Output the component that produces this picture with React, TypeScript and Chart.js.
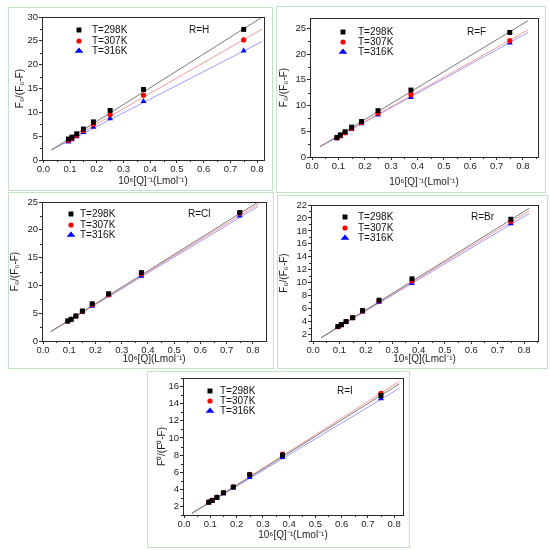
import React, { useEffect, useRef } from "react";
import { Chart, registerables } from "chart.js";
Chart.register(...registerables);

const FONT = "'Liberation Sans', Arial, sans-serif";

// shared x values: 10^6 [Q]^-1
const xQ = [0.094, 0.107, 0.125, 0.15, 0.1875, 0.25, 0.375, 0.75];
const seriesLabels = ["T=298K", "T=307K", "T=316K"];
const fitX = [0.03, 0.82];
const xTicks = [0, 0.1, 0.2, 0.3, 0.4, 0.5, 0.6, 0.7, 0.8];

// R=H
const yH298 = [4.4, 4.8, 5.5, 6.5, 8.0, 10.4, 14.8, 27.4];
const yH307 = [4.1, 4.6, 5.2, 6.2, 7.5, 9.5, 13.6, 25.2];
const yH316 = [3.8, 4.3, 4.9, 5.8, 6.9, 8.7, 12.3, 22.9];
const fitH298 = [2.1, 30.0];
const fitH307 = [2.1, 27.5];
const fitH316 = [2.1, 24.9];
const yTicksH = [0, 5, 10, 15, 20, 25, 30];

// R=F
const yF298 = [3.8, 4.3, 4.9, 5.8, 6.9, 9.0, 13.0, 24.2];
const yF307 = [3.7, 4.1, 4.7, 5.6, 6.7, 8.5, 12.1, 22.6];
const yF316 = [3.6, 4.0, 4.6, 5.4, 6.5, 8.2, 11.6, 22.2];
const fitF298 = [2.0, 26.5];
const fitF307 = [2.0, 24.7];
const fitF316 = [2.0, 24.2];
const yTicksF = [0, 5, 10, 15, 20, 25];

// R=Cl
const yCl298 = [3.6, 3.9, 4.5, 5.4, 6.7, 8.5, 12.3, 23.1];
const yCl307 = [3.6, 3.9, 4.5, 5.3, 6.5, 8.3, 12.1, 23.0];
const yCl316 = [3.5, 3.8, 4.4, 5.2, 6.3, 8.2, 11.7, 22.5];
const fitCl298 = [1.7, 25.0];
const fitCl307 = [1.7, 24.6];
const fitCl316 = [1.7, 24.2];
const yTicksCl = [0, 5, 10, 15, 20, 25];

// R=Br
const yBr298 = [3.25, 3.55, 4.0, 4.6, 5.7, 7.3, 10.6, 19.8];
const yBr307 = [3.2, 3.5, 4.0, 4.6, 5.6, 7.2, 10.3, 19.5];
const yBr316 = [3.1, 3.4, 3.9, 4.5, 5.5, 7.0, 9.9, 19.15];
const fitBr298 = [1.5, 21.5];
const fitBr307 = [1.5, 21.1];
const fitBr316 = [1.5, 20.7];
const yTicksBr = [2, 4, 6, 8, 10, 12, 14, 16, 18, 20, 22];

// R=I
const yI298 = [2.5, 2.7, 3.05, 3.6, 4.25, 5.7, 8.0, 14.95];
const yI307 = [2.5, 2.7, 3.1, 3.6, 4.3, 5.75, 8.1, 15.2];
const yI316 = [2.45, 2.65, 3.0, 3.5, 4.2, 5.4, 7.75, 14.6];
const fitI298 = [1.2, 16.3];
const fitI307 = [1.2, 16.6];
const fitI316 = [1.2, 15.8];
const yTicksI = [2, 4, 6, 8, 10, 12, 14, 16];

const markerColors = ["#000000", "#ff0000", "#0000ff"];
const markerStyles = ["rect", "circle", "triangle"];
const markerRadii = [3.5, 2.6, 3.4];
const lineColors = ["#7a7a7a", "#f39a9a", "#9c9cff"];

type Rect = { x: number; y: number; r: number; b: number };
type PlotR = { l: number; t: number; r: number; b: number };
type Panel = {
  box: Rect;
  plot: PlotR;
  xRange: [number, number];
  yRange: [number, number];
  yTicks: number[];
  ys: number[][];
  fits: number[][];
  yTitle: string;
  xTitle: string;
  yTitleCX: number;
  xTitleCY: number;
  tag: string;
  leg: { mx: number; tx: number; rows: number[]; tagDx: number };
};

const panels: Panel[] = [
  {
    box: { x: 8, y: 7, r: 273, b: 191 },
    plot: { l: 42, t: 17, r: 264, b: 160 },
    xRange: [-0.005, 0.826],
    yRange: [0, 30],
    yTicks: yTicksH,
    ys: [yH298, yH307, yH316],
    fits: [fitH298, fitH307, fitH316],
    yTitle: "F\u2080/(F\u2080-F)",
    xTitle: "10\u2076[Q]\u207B\u00B9(Lmol\u207B\u00B9)",
    yTitleCX: 20,
    xTitleCY: 181,
    tag: "R=H",
    leg: { mx: 37, tx: 50, rows: [13, 24, 34], tagDx: 75 },
  },
  {
    box: { x: 276, y: 6, r: 546, b: 193 },
    plot: { l: 310, t: 18, r: 538, b: 157 },
    xRange: [-0.008, 0.857],
    yRange: [0, 27],
    yTicks: yTicksF,
    ys: [yF298, yF307, yF316],
    fits: [fitF298, fitF307, fitF316],
    yTitle: "F\u2080/(F\u2080-F)",
    xTitle: "10\u2076[Q]\u207B\u00B9(Lmol\u207B\u00B9)",
    yTitleCX: 284,
    xTitleCY: 182,
    tag: "R=F",
    leg: { mx: 33, tx: 48, rows: [14, 24, 34], tagDx: 71 },
  },
  {
    box: { x: 8, y: 192, r: 274, b: 369 },
    plot: { l: 42, t: 202, r: 266, b: 341 },
    xRange: [-0.004, 0.85],
    yRange: [0, 25],
    yTicks: yTicksCl,
    ys: [yCl298, yCl307, yCl316],
    fits: [fitCl298, fitCl307, fitCl316],
    yTitle: "F\u2080/(F\u2080-F)",
    xTitle: "10\u2076[Q](Lmol\u207B\u00B9)",
    yTitleCX: 15,
    xTitleCY: 359,
    tag: "R=Cl",
    leg: { mx: 29, tx: 38, rows: [12, 23, 33], tagDx: 78 },
  },
  {
    box: { x: 277, y: 195, r: 548, b: 369 },
    plot: { l: 311, t: 205, r: 538, b: 341 },
    xRange: [-0.008, 0.853],
    yRange: [1, 22],
    yTicks: yTicksBr,
    ys: [yBr298, yBr307, yBr316],
    fits: [fitBr298, fitBr307, fitBr316],
    yTitle: "F\u2080/(F\u2080-F)",
    xTitle: "10\u2076[Q](Lmcl\u207B\u00B9)",
    yTitleCX: 284,
    xTitleCY: 359,
    tag: "R=Br",
    leg: { mx: 34, tx: 47, rows: [12, 23, 33], tagDx: 67 },
  },
  {
    box: { x: 147, y: 371, r: 410, b: 548 },
    plot: { l: 183, t: 378, r: 403, b: 515 },
    xRange: [-0.004, 0.834],
    yRange: [1, 17],
    yTicks: yTicksI,
    ys: [yI298, yI307, yI316],
    fits: [fitI298, fitI307, fitI316],
    yTitle: "F\u2070/(F\u2070-F)",
    xTitle: "10\u2076[Q]\u207B\u00B9(Lmol\u207B\u00B9)",
    yTitleCX: 162,
    xTitleCY: 535,
    tag: "R=I",
    leg: { mx: 27, tx: 37, rows: [13, 23, 33], tagDx: 66 },
  },
];

function drawMarker(ctx: CanvasRenderingContext2D, style: string, x: number, y: number, r: number, color: string) {
  ctx.save();
  ctx.fillStyle = color;
  ctx.beginPath();
  if (style === "rect") {
    const h = r * Math.SQRT1_2;
    ctx.rect(x - h, y - h, 2 * h, 2 * h);
  } else if (style === "circle") {
    ctx.arc(x, y, r, 0, Math.PI * 2);
  } else {
    const s = r * 1.5;
    ctx.moveTo(x, y - r);
    ctx.lineTo(x + s * 0.577 * 1.5, y + r * 0.5);
    ctx.lineTo(x - s * 0.577 * 1.5, y + r * 0.5);
    ctx.closePath();
  }
  ctx.fill();
  ctx.restore();
}

function PanelChart({ p }: { p: Panel }) {
  const ref = useRef<HTMLCanvasElement | null>(null);
  const w = p.box.r - p.box.x;
  const h = p.box.b - p.box.y;

  useEffect(() => {
    if (!ref.current) return;
    const { box, plot } = p;
    const yScaleLeft = Math.max(box.x, p.yTitleCX - 6);
    const padLeft = yScaleLeft - box.x;
    const yW = plot.l - yScaleLeft;
    const xScaleBottom = Math.min(box.b, p.xTitleCY + 6);
    const xH = xScaleBottom - plot.b;
    const padBottom = box.b - xScaleBottom;
    const padTop = plot.t - box.y;
    const padRight = box.r - plot.r;

    const datasets: any[] = [];
    for (let i = 0; i < 3; i++) {
      datasets.push({
        label: seriesLabels[i],
        data: xQ.map((x, j) => ({ x, y: p.ys[i][j] })),
        pointStyle: markerStyles[i],
        pointRadius: markerRadii[i],
        pointBackgroundColor: markerColors[i],
        pointBorderColor: markerColors[i],
        pointBorderWidth: 0,
        showLine: false,
        order: 0,
      });
    }
    for (let i = 0; i < 3; i++) {
      datasets.push({
        label: "fit " + seriesLabels[i],
        data: fitX.map((x, j) => ({ x, y: p.fits[i][j] })),
        showLine: true,
        borderColor: lineColors[i],
        borderWidth: 1,
        pointRadius: 0,
        order: 1,
      });
    }

    const axisColor = "#2a2a2a";
    const tickFont = { family: FONT, size: 9.5 };
    const titleFont = { family: FONT, size: 10 };

    const decor = {
      id: "decor",
      afterDraw(chart: any) {
        const ctx: CanvasRenderingContext2D = chart.ctx;
        const a = chart.chartArea;
        const xs = chart.scales.x;
        const ys = chart.scales.y;
        ctx.save();
        ctx.strokeStyle = axisColor;
        ctx.lineWidth = 1;
        ctx.strokeRect(Math.round(a.left) + 0.5, Math.round(a.top) + 0.5, Math.round(a.right - a.left), Math.round(a.bottom - a.top));
        // minor ticks
        ctx.beginPath();
        for (let k = 0; k < xTicks.length; k++) {
          const v = xTicks[k] + 0.05;
          if (v > xs.max) continue;
          const px = Math.round(xs.getPixelForValue(v)) + 0.5;
          ctx.moveTo(px, a.bottom);
          ctx.lineTo(px, a.bottom + 2);
        }
        const yt = p.yTicks;
        const step = yt[1] - yt[0];
        for (let k = -1; k < yt.length; k++) {
          const v = (k < 0 ? yt[0] - step : yt[k]) + step / 2;
          if (v < ys.min || v > ys.max) continue;
          const py = Math.round(ys.getPixelForValue(v)) + 0.5;
          ctx.moveTo(a.left, py);
          ctx.lineTo(a.left - 2, py);
        }
        ctx.stroke();
        // legend
        ctx.font = `10px ${FONT}`;
        ctx.fillStyle = "#111";
        ctx.textBaseline = "middle";
        ctx.textAlign = "left";
        for (let i = 0; i < 3; i++) {
          const yy = a.top + p.leg.rows[i];
          drawMarker(ctx, markerStyles[i], a.left + p.leg.mx, yy, markerRadii[i], markerColors[i]);
          ctx.fillStyle = "#111";
          ctx.fillText(seriesLabels[i], a.left + p.leg.tx, yy);
        }
        ctx.fillText(p.tag, a.right - p.leg.tagDx, a.top + p.leg.rows[0]);
        ctx.restore();
      },
    };

    const chart = new Chart(ref.current, {
      type: "scatter",
      data: { datasets },
      options: {
        animation: false,
        responsive: false,
        maintainAspectRatio: false,
        layout: { padding: { left: padLeft, right: padRight, top: padTop, bottom: padBottom } },
        plugins: { legend: { display: false }, tooltip: { enabled: false }, title: { display: false } },
        scales: {
          x: {
            type: "linear",
            min: p.xRange[0],
            max: p.xRange[1],
            afterBuildTicks: (s: any) => {
              s.ticks = xTicks.map((v) => ({ value: v }));
            },
            afterFit: (s: any) => {
              s.height = xH;
            },
            grid: { drawOnChartArea: false, drawTicks: true, tickLength: 3, color: axisColor },
            border: { display: true, color: axisColor, width: 1 },
            ticks: {
              padding: 1,
              autoSkip: false,
              maxRotation: 0,
              font: tickFont,
              color: "#222",
              callback: (v: any) => Number(v).toFixed(1),
            },
            title: { display: true, text: p.xTitle, font: titleFont, color: "#222", padding: 0 },
          },
          y: {
            type: "linear",
            min: p.yRange[0],
            max: p.yRange[1],
            afterBuildTicks: (s: any) => {
              s.ticks = p.yTicks.map((v) => ({ value: v }));
            },
            afterFit: (s: any) => {
              s.width = yW;
            },
            grid: { drawOnChartArea: false, drawTicks: true, tickLength: 3, color: axisColor },
            border: { display: true, color: axisColor, width: 1 },
            ticks: {
              padding: 1,
              autoSkip: false,
              font: tickFont,
              color: "#222",
              callback: (v: any) => String(v),
            },
            title: { display: true, text: p.yTitle, font: titleFont, color: "#222", padding: 0 },
          },
        },
      },
      plugins: [decor],
    } as any);
    return () => chart.destroy();
  }, [p]);

  return (
    <>
      <div
        style={{
          position: "absolute",
          left: p.box.x,
          top: p.box.y,
          width: w,
          height: h,
          boxSizing: "border-box",
          border: "1px solid #c4e3c4",
          background: "#fff",
        }}
      />
      <canvas
        ref={ref}
        width={w}
        height={h}
        style={{ position: "absolute", left: p.box.x, top: p.box.y, width: w, height: h }}
      />
    </>
  );
}

export default function App() {
  return (
    <div style={{ position: "absolute", left: 0, top: 0, width: 550, height: 550, background: "#fff" }}>
      {panels.map((p, i) => (
        <PanelChart key={i} p={p} />
      ))}
    </div>
  );
}
